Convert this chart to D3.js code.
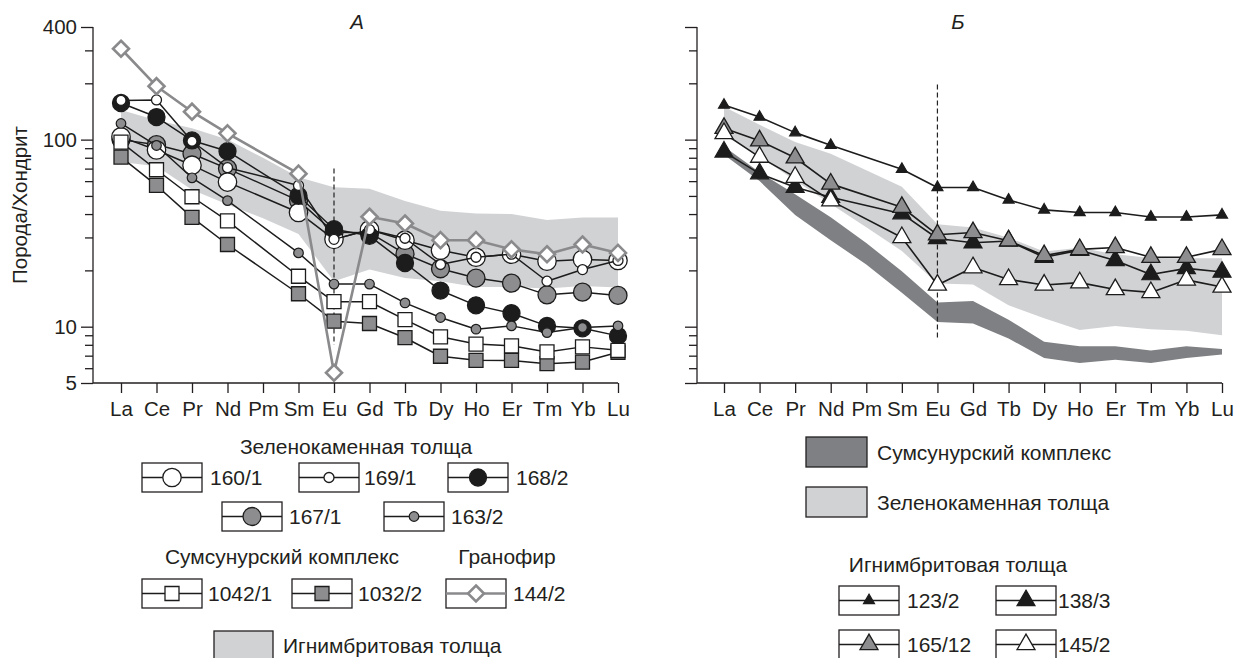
<!DOCTYPE html>
<html><head><meta charset="utf-8">
<script src="https://cdn.jsdelivr.net/npm/d3@7"></script>
<style>
body{margin:0;background:#fff}
svg{display:block}
text{font-family:"Liberation Sans",Arial,sans-serif;fill:#231f20}
</style>
</head><body>
<svg id="c" width="1248" height="658"></svg>
<script>
// ---------- DATA ----------
const elements = ["La","Ce","Pr","Nd","Pm","Sm","Eu","Gd","Tb","Dy","Ho","Er","Tm","Yb","Lu"];
const yTicksLabeled = [400,100,10,5];
const yTicksMinor = [6,7,8,9,20,30,40,50,60,70,80,90,200,300];

// Panel A (null = no value, Pm)
const a160_1  = [103.5,88,73,59.3,null,40.8,29.3,33,29,25.6,23.5,24.4,22.4,22.9,22.6];
const a169_1  = [162,163,98,70.8,null,56.9,29.3,33,29.7,21.5,23.5,24.4,17.5,20.2,22.6];
const a168_2  = [157,132,99,86.7,null,50.1,33.2,30.6,21.9,15.6,13.0,11.8,10.1,9.8,8.93];
const a167_1  = [100,94,84,70,null,47.2,32,31.8,24.5,20.4,18.2,17.1,14.8,15.3,14.7];
const a163_2  = [122,93,62.5,47.2,null,24.8,16.9,16.9,13.4,11.2,9.7,10.1,9.3,9.9,10.1];
const a1042_1 = [97,69,49.5,36.8,null,18.6,13.6,13.6,10.9,8.83,8.07,7.9,7.33,7.8,7.48];
const a1032_2 = [80.7,56.9,38.4,27.5,null,15.0,10.7,10.4,8.73,6.95,6.61,6.6,6.34,6.47,7.3];
const a144_2  = [306,193,141,108,null,65.8,5.67,38.7,35.6,29,29,25.9,24.4,27.5,24.8];
const aBandUpper = [144,127,115,100,80,63,55.7,54.6,47,41.7,40.3,40,37.2,38.4,38.4];
const aBandLower = [76,72,54,45,38,31.3,17.5,20.2,18.2,17.5,16.3,16.3,16,16.5,16.2];
const aEuDash = [70,8.0];

// Panel B
const b123_2  = [153,132,109,93.3,null,69.5,55.5,55.5,47.6,42.1,40.8,40.8,38.6,38.6,39.6];
const b138_3  = [86,65.8,55.7,49.2,null,40.2,29.6,28.1,28.7,23.5,25.6,22.6,19,20.5,19.6];
const b165_12 = [115,98.6,80,58,null,43.5,31,31.9,28.8,24,25.9,26.5,23.5,23.5,25.9];
const b145_2  = [108,80.7,63,47.2,null,30,16.7,20.7,17.9,16.7,17.2,15.8,15.25,17.8,16.3];
const bGreenUpper = [150,120,97,84,68.5,56,35.3,33.9,29.9,25.2,26.4,24.4,23.3,23.2,23.2];
const bGreenLower = [106,81,60.5,45.3,34,25.4,17,16.8,13,11.1,9.6,10.1,9.7,9.5,9.0];
const bSumUpper = [92,67,51,38.5,28,19.8,13.45,13.7,10.9,8.3,7.85,7.85,7.45,7.85,7.6];
const bSumLower = [83,60,39.5,29,21.5,15.2,10.6,10.4,8.65,6.8,6.4,6.65,6.4,6.8,7.1];
const bEuDash = [197,8.65];

// ---------- STYLE ----------
const BLACK="#1c1c1c", GRAY="#8d8d8f", WHITE="#ffffff", LIGHT="#d1d2d4", DARK="#7f8083", GLINE="#8a8a8c";
const FONT=20.5, LFONT=21;

const svg = d3.select("#c");
const y = d3.scaleLog().domain([5,400]).range([383,27]);

function markerPath(shape, s){
  if(shape==="circle") return d3.symbol().type(d3.symbolCircle).size(Math.PI*s*s)();
  if(shape==="square") return `M${-s},${-s}H${s}V${s}H${-s}Z`;
  if(shape==="diamond") return `M0,${-s}L${s},0L0,${s}L${-s},0Z`;
  if(shape==="triangle"){ const h=s*Math.sqrt(3)/2; return `M0,${-2*h/3}L${s/2},${h/3}L${-s/2},${h/3}Z`; }
}

const seriesA = [
  {name:"167/1", vals:a167_1, shape:"circle", s:9, fill:GRAY, stroke:BLACK, sw:1.3, line:BLACK, lw:1.5},
  {name:"160/1", vals:a160_1, shape:"circle", s:9.2, fill:WHITE, stroke:BLACK, sw:1.3, line:BLACK, lw:1.5},
  {name:"168/2", vals:a168_2, shape:"circle", s:8.5, fill:BLACK, stroke:BLACK, sw:1.3, line:BLACK, lw:1.5},
  {name:"169/1", vals:a169_1, shape:"circle", s:5, fill:WHITE, stroke:BLACK, sw:1.3, line:BLACK, lw:1.5},
  {name:"163/2", vals:a163_2, shape:"circle", s:4.8, fill:GRAY, stroke:BLACK, sw:1.2, line:BLACK, lw:1.5},
  {name:"1032/2", vals:a1032_2, shape:"square", s:7, fill:GRAY, stroke:BLACK, sw:1.3, line:BLACK, lw:1.5},
  {name:"1042/1", vals:a1042_1, shape:"square", s:7, fill:WHITE, stroke:BLACK, sw:1.3, line:BLACK, lw:1.5},
  {name:"144/2", vals:a144_2, shape:"diamond", s:8, fill:WHITE, stroke:GLINE, sw:2.6, line:GLINE, lw:2.6}
];
const seriesB = [
  {name:"123/2", vals:b123_2, shape:"triangle", s:11, fill:BLACK, stroke:BLACK, sw:1.2, line:BLACK, lw:1.6},
  {name:"138/3", vals:b138_3, shape:"triangle", s:18, fill:BLACK, stroke:BLACK, sw:1.2, line:BLACK, lw:1.6},
  {name:"165/12", vals:b165_12, shape:"triangle", s:18, fill:GRAY, stroke:BLACK, sw:1.3, line:BLACK, lw:1.6},
  {name:"145/2", vals:b145_2, shape:"triangle", s:18, fill:WHITE, stroke:BLACK, sw:1.3, line:BLACK, lw:1.6}
];

const panels = [
  {axisX:93, x0:121, x1:618, title:"А", titleX:357, labels:true,
   bands:[{up:aBandUpper, lo:aBandLower, fill:LIGHT}], dash:aEuDash, series:seriesA},
  {axisX:697, x0:724, x1:1222, title:"Б", titleX:958, labels:false,
   bands:[{up:bGreenUpper, lo:bGreenLower, fill:LIGHT},{up:bSumUpper, lo:bSumLower, fill:DARK}], dash:bEuDash, series:seriesB}
];

panels.forEach(p=>{
  const x = d3.scalePoint().domain(elements).range([p.x0,p.x1]);
  const g = svg.append("g");
  p.bands.forEach(b=>{
    const rows = elements.map((e,i)=>({e, up:b.up[i], lo:b.lo[i]}));
    g.append("path").datum(rows)
      .attr("d", d3.area().x(d=>x(d.e)).y0(d=>y(d.lo)).y1(d=>y(d.up)))
      .attr("fill", b.fill);
  });
  g.append("line").attr("x1",x("Eu")).attr("x2",x("Eu"))
    .attr("y1",y(p.dash[0])).attr("y2",y(p.dash[1]))
    .attr("stroke","#222").attr("stroke-width",1.2).attr("stroke-dasharray","5,3");
  p.series.forEach(s=>{
    const pts = elements.map((e,i)=>({e, v:s.vals[i]})).filter(d=>d.v!=null);
    g.append("path").datum(pts)
      .attr("d", d3.line().x(d=>x(d.e)).y(d=>y(d.v)))
      .attr("fill","none").attr("stroke",s.line).attr("stroke-width",s.lw).attr("stroke-linejoin","round");
    g.selectAll(null).data(pts).enter().append("path")
      .attr("transform",d=>`translate(${x(d.e)},${y(d.v)})`)
      .attr("d", markerPath(s.shape, s.s))
      .attr("fill", s.fill).attr("stroke", s.stroke).attr("stroke-width", s.sw);
  });
  const xa = g.append("g").attr("transform","translate(0,383)")
    .call(d3.axisBottom(x).tickSize(10).tickSizeOuter(0).tickPadding(8));
  xa.select(".domain").remove();
  xa.selectAll("line").attr("stroke","#231f20").attr("stroke-width",1.3);
  xa.selectAll("text").attr("font-size",FONT).attr("font-family",null).attr("fill","#231f20");
  g.append("line").attr("x1",p.axisX).attr("x2",p.x1).attr("y1",383).attr("y2",383)
    .attr("stroke","#231f20").attr("stroke-width",1.3);
  const yaMaj = g.append("g").attr("transform",`translate(${p.axisX},0)`)
    .call(d3.axisLeft(y).tickValues(yTicksLabeled).tickSize(12).tickPadding(4)
      .tickFormat(d=> p.labels ? d : ""));
  yaMaj.select(".domain").remove();
  yaMaj.selectAll("line").attr("stroke","#231f20").attr("stroke-width",1.3);
  yaMaj.selectAll("text").attr("font-size",FONT).attr("font-family",null).attr("fill","#231f20");
  const yaMin = g.append("g").attr("transform",`translate(${p.axisX},0)`)
    .call(d3.axisLeft(y).tickValues(yTicksMinor).tickSize(8).tickFormat(""));
  yaMin.select(".domain").remove();
  yaMin.selectAll("line").attr("stroke","#231f20").attr("stroke-width",1.3);
  g.append("line").attr("x1",p.axisX).attr("x2",p.axisX).attr("y1",y(400)).attr("y2",383)
    .attr("stroke","#231f20").attr("stroke-width",1.3);
  g.append("text").attr("x",p.titleX).attr("y",29).attr("text-anchor","middle")
    .attr("font-size",FONT).attr("font-style","italic").text(p.title);
});

svg.append("text").attr("transform","translate(27,205) rotate(-90)")
  .attr("text-anchor","middle").attr("font-size",FONT).text("Порода/Хондрит");

// ---------- LEGENDS ----------
function legendBox(s, bx, by, labelX){
  const w=60, h=29;
  const g = svg.append("g");
  g.append("rect").attr("x",bx).attr("y",by).attr("width",w).attr("height",h)
    .attr("fill","#fff").attr("stroke","#231f20").attr("stroke-width",1.3);
  g.append("line").attr("x1",bx).attr("x2",bx+w).attr("y1",by+h/2).attr("y2",by+h/2)
    .attr("stroke",s.line).attr("stroke-width",s.lw);
  g.append("path").attr("transform",`translate(${bx+w/2},${by+h/2})`)
    .attr("d",markerPath(s.shape,s.s)).attr("fill",s.fill).attr("stroke",s.stroke).attr("stroke-width",s.sw);
  g.append("text").attr("x",labelX).attr("y",by+h/2).attr("dy","0.36em")
    .attr("font-size",LFONT).text(s.name);
}
const findS = (arr,n)=>arr.find(s=>s.name===n);

const legendTitlesA = [["Зеленокаменная толща",356,454],["Сумсунурский комплекс",282,564],["Гранофир",507,564]];
legendTitlesA.forEach(t=>svg.append("text").attr("x",t[1]).attr("y",t[2]).attr("text-anchor","middle").attr("font-size",LFONT).text(t[0]));
const legendA = [["160/1",142,463,210],["169/1",299,463,364],["168/2",448,463,516],
  ["167/1",222,502,289],["163/2",384,502,451],
  ["1042/1",142,579,208],["1032/2",292,579,358],["144/2",446,579,513]];
legendA.forEach(l=>legendBox(findS(seriesA,l[0]),l[1],l[2],l[3]));
svg.append("rect").attr("x",214).attr("y",631).attr("width",59).attr("height",30)
  .attr("fill",LIGHT).attr("stroke","#231f20").attr("stroke-width",1.3);
svg.append("text").attr("x",283).attr("y",653).attr("font-size",LFONT).text("Игнимбритовая толща");

const legendRectsB = [["Сумсунурский комплекс",DARK,437],["Зеленокаменная толща",LIGHT,487]];
legendRectsB.forEach(r=>{
  svg.append("rect").attr("x",806).attr("y",r[2]).attr("width",61).attr("height",30)
    .attr("fill",r[1]).attr("stroke","#231f20").attr("stroke-width",1.3);
  svg.append("text").attr("x",877).attr("y",r[2]+15).attr("dy","0.36em").attr("font-size",LFONT).text(r[0]);
});
svg.append("text").attr("x",958).attr("y",572).attr("text-anchor","middle").attr("font-size",LFONT).text("Игнимбритовая толща");
const legendB = [["123/2",839,586,907],["138/3",996,586,1058],["165/12",839,630,907],["145/2",996,630,1058]];
legendB.forEach(l=>legendBox(findS(seriesB,l[0]),l[1],l[2],l[3]));
</script>
</body></html>
